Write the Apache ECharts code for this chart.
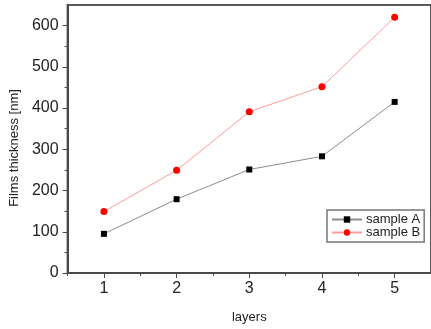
<!DOCTYPE html>
<html>
<head>
<meta charset="utf-8">
<script src="https://cdn.jsdelivr.net/npm/echarts@6/dist/echarts.min.js"></script>
<style>
html,body{margin:0;padding:0;background:#fff;}
#chart{width:431px;height:329px;}
</style>
</head>
<body>
<div id="chart"></div>
<script>
const layers = [1, 2, 3, 4, 5];
const sampleA = [95, 179, 251, 283, 415];
const sampleB = [149, 249, 391, 452, 620];
const yMajorTicks = [0, 100, 200, 300, 400, 500, 600];
const yMinorTicks = [50, 150, 250, 350, 450, 550];
const xMinorTicks = [0.5, 1.5, 2.5, 3.5, 4.5, 5.5];

const font = '"Liberation Sans", Arial, sans-serif';
const chart = echarts.init(document.getElementById('chart'));
const pairs = arr => layers.map((x, i) => [x, arr[i]]);

chart.setOption({
  animation: false,
  grid: {left: 67, top: 5, right: -2, bottom: 52, show: true, borderColor: '#5a5a5a', borderWidth: 2, backgroundColor: 'transparent'},
  xAxis: [{
    type: 'value', min: 0.5, max: 5.5, interval: 0.5,
    name: 'layers', nameLocation: 'middle', nameGap: 38,
    nameTextStyle: {fontFamily: font, fontSize: 13, color: '#222'},
    axisLine: {show: true, lineStyle: {color: '#4a4a4a', width: 2}},
    axisTick: {show: true, customValues: layers, length: 5, lineStyle: {color: '#4a4a4a', width: 1}},
    axisLabel: {customValues: layers, margin: 8, fontFamily: font, fontSize: 16, color: '#222'},
    splitLine: {show: false}
  }, {
    type: 'value', min: 0.5, max: 5.5, interval: 0.5, position: 'bottom',
    axisLine: {show: false},
    axisTick: {show: true, customValues: xMinorTicks, length: 3, lineStyle: {color: '#4a4a4a', width: 1}},
    axisLabel: {show: false},
    splitLine: {show: false}
  }],
  yAxis: [{
    type: 'value', min: 0, max: 650, interval: 50,
    name: 'Films thickness [nm]', nameLocation: 'middle', nameGap: 46, nameRotate: 90,
    nameTextStyle: {fontFamily: font, fontSize: 13, color: '#222', padding: [0, 18, 0, 0]},
    axisLine: {show: true, lineStyle: {color: '#4a4a4a', width: 2}},
    axisTick: {show: true, customValues: yMajorTicks, length: 5, lineStyle: {color: '#4a4a4a', width: 1}},
    axisLabel: {customValues: yMajorTicks, margin: 9, fontFamily: font, fontSize: 16, color: '#222'},
    splitLine: {show: false}
  }, {
    type: 'value', min: 0, max: 650, interval: 50, position: 'left',
    axisLine: {show: false},
    axisTick: {show: true, customValues: yMinorTicks, length: 3, lineStyle: {color: '#4a4a4a', width: 1}},
    axisLabel: {show: false},
    splitLine: {show: false}
  }],
  legend: {
    orient: 'vertical', left: 327, top: 210,
    borderColor: '#777', borderWidth: 1.5, borderRadius: 0,
    padding: [3, 4, 3, 4], itemGap: 0, itemWidth: 30, itemHeight: 8,
    textStyle: {fontFamily: font, fontSize: 13, color: '#222', padding: [0, 0, 0, -1]},
    data: ['sample A', 'sample B']
  },
  series: [{
    name: 'sample A', type: 'line', data: pairs(sampleA),
    symbol: 'rect', symbolSize: 6,
    itemStyle: {color: '#000'},
    lineStyle: {color: '#8c8c8c', width: 1}
  }, {
    name: 'sample B', type: 'line', data: pairs(sampleB),
    symbol: 'circle', symbolSize: 7,
    itemStyle: {color: '#ff0000'},
    lineStyle: {color: '#ff9a9a', width: 1}
  }]
});
</script>
</body>
</html>
